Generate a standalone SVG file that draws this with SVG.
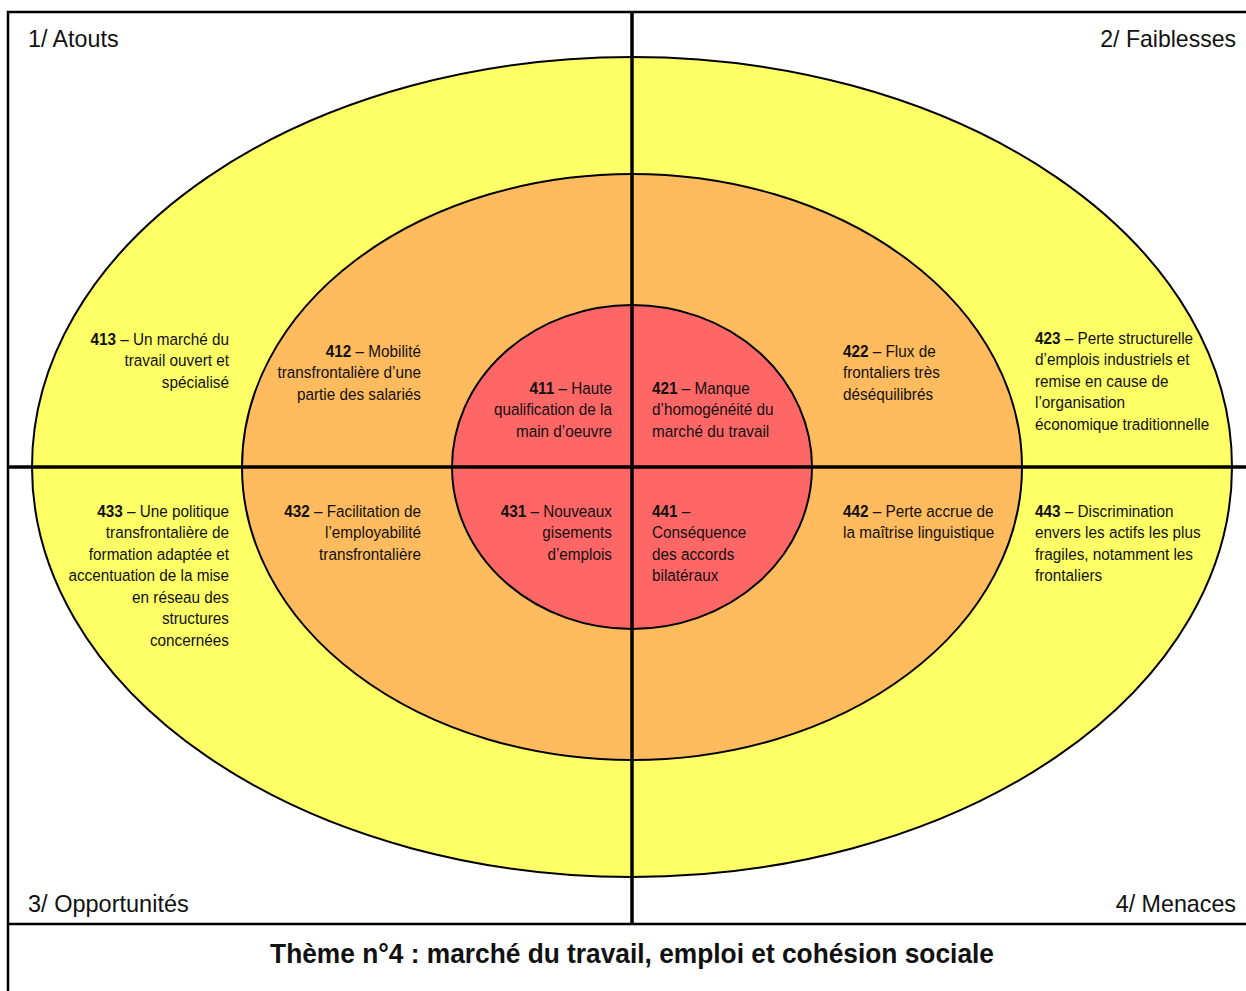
<svg xmlns="http://www.w3.org/2000/svg" width="1246" height="991" viewBox="0 0 1246 991">
<style>
text{font-family:"Liberation Sans",Arial,sans-serif;fill:#111;}
.t{font-size:17px;}
.r{text-anchor:end;}
.h{font-size:24px;}
.b{font-weight:bold;}
.ring{stroke:#000;stroke-width:2;}
.ax{stroke:#000;stroke-width:3.5;fill:none;}
</style>
<rect x="0" y="0" width="1246" height="991" fill="#fff"/>
<g id="rings">
<ellipse id="outer" class="ring" cx="632" cy="467" rx="600" ry="410" fill="#FFFF66"/>
<ellipse id="middle" class="ring" cx="632" cy="467" rx="390" ry="293" fill="#FFBB5E"/>
<ellipse id="inner" class="ring" cx="632" cy="467" rx="180" ry="162" fill="#FF6666"/>
</g>
<g id="frame">
<rect x="8" y="12" width="1240" height="990" fill="none" stroke="#000" stroke-width="2.5"/>
<line x1="8" y1="924" x2="1246" y2="924" stroke="#000" stroke-width="2.5"/>
</g>
<g id="connectors">
<line class="ax" x1="632" y1="12" x2="632" y2="924"/>
<line class="ax" x1="8" y1="467" x2="1246" y2="467"/>
</g>
<g id="quadrant-labels">
<text class="h" transform="translate(28,47) scale(0.97,1)">1/ Atouts</text>
<text class="h r" transform="translate(1236,47) scale(0.96,1)">2/ Faiblesses</text>
<text class="h" transform="translate(28,912) scale(0.98,1)">3/ Opportunités</text>
<text class="h r" transform="translate(1236,912) scale(0.97,1)">4/ Menaces</text>
</g>
<g id="n413"><text class="t r" transform="translate(229,345) scale(0.9,1)"><tspan class="b">413</tspan> – Un marché du<tspan x="0" dy="21.5">travail ouvert et</tspan><tspan x="0" dy="21.5">spécialisé</tspan></text></g>
<g id="n412"><text class="t r" transform="translate(421,357) scale(0.9,1)"><tspan class="b">412</tspan> – Mobilité<tspan x="0" dy="21.5">transfrontalière d’une</tspan><tspan x="0" dy="21.5">partie des salariés</tspan></text></g>
<g id="n411"><text class="t r" transform="translate(612,394) scale(0.9,1)"><tspan class="b">411</tspan> – Haute<tspan x="0" dy="21.5">qualification de la</tspan><tspan x="0" dy="21.5">main d’oeuvre</tspan></text></g>
<g id="n421"><text class="t" transform="translate(652,394) scale(0.9,1)"><tspan class="b">421</tspan> – Manque<tspan x="0" dy="21.5">d’homogénéité du</tspan><tspan x="0" dy="21.5">marché du travail</tspan></text></g>
<g id="n422"><text class="t" transform="translate(843,357) scale(0.9,1)"><tspan class="b">422</tspan> – Flux de<tspan x="0" dy="21.5">frontaliers très</tspan><tspan x="0" dy="21.5">déséquilibrés</tspan></text></g>
<g id="n423"><text class="t" transform="translate(1035,344) scale(0.9,1)"><tspan class="b">423</tspan> – Perte structurelle<tspan x="0" dy="21.5">d’emplois industriels et</tspan><tspan x="0" dy="21.5">remise en cause de</tspan><tspan x="0" dy="21.5">l’organisation</tspan><tspan x="0" dy="21.5">économique traditionnelle</tspan></text></g>
<g id="n433"><text class="t r" transform="translate(229,517) scale(0.9,1)"><tspan class="b">433</tspan> – Une politique<tspan x="0" dy="21.5">transfrontalière de</tspan><tspan x="0" dy="21.5">formation adaptée et</tspan><tspan x="0" dy="21.5">accentuation de la mise</tspan><tspan x="0" dy="21.5">en réseau des</tspan><tspan x="0" dy="21.5">structures</tspan><tspan x="0" dy="21.5">concernées</tspan></text></g>
<g id="n432"><text class="t r" transform="translate(421,517) scale(0.9,1)"><tspan class="b">432</tspan> – Facilitation de<tspan x="0" dy="21.5">l’employabilité</tspan><tspan x="0" dy="21.5">transfrontalière</tspan></text></g>
<g id="n431"><text class="t r" transform="translate(612,517) scale(0.9,1)"><tspan class="b">431</tspan> – Nouveaux<tspan x="0" dy="21.5">gisements</tspan><tspan x="0" dy="21.5">d’emplois</tspan></text></g>
<g id="n441"><text class="t" transform="translate(652,517) scale(0.9,1)"><tspan class="b">441</tspan> –<tspan x="0" dy="21.5">Conséquence</tspan><tspan x="0" dy="21.5">des accords</tspan><tspan x="0" dy="21.5">bilatéraux</tspan></text></g>
<g id="n442"><text class="t" transform="translate(843,517) scale(0.9,1)"><tspan class="b">442</tspan> – Perte accrue de<tspan x="0" dy="21.5">la maîtrise linguistique</tspan></text></g>
<g id="n443"><text class="t" transform="translate(1035,517) scale(0.9,1)"><tspan class="b">443</tspan> – Discrimination<tspan x="0" dy="21.5">envers les actifs les plus</tspan><tspan x="0" dy="21.5">fragiles, notamment les</tspan><tspan x="0" dy="21.5">frontaliers</tspan></text></g>
<g id="title"><text class="b" transform="translate(632,963) scale(0.94,1)" text-anchor="middle" font-size="28">Thème n°4 : marché du travail, emploi et cohésion sociale</text></g>
</svg>
